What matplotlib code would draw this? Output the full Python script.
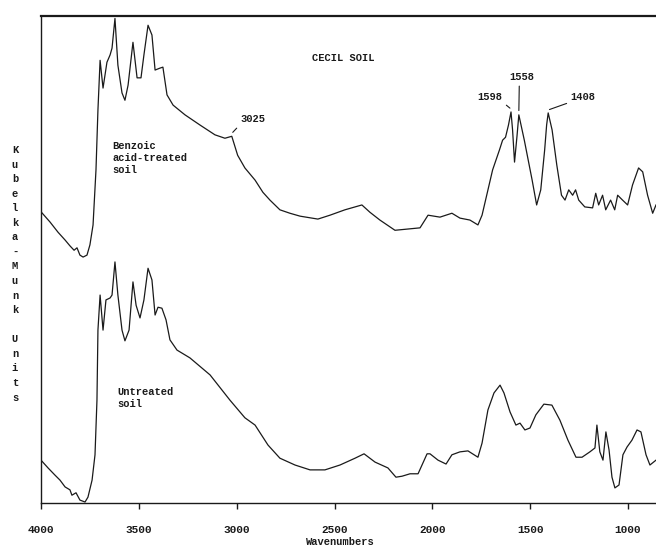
import numpy as np
import matplotlib
matplotlib.use('Agg')
import matplotlib.pyplot as plt

# Kubelka-Munk spectra (arbitrary units), wavenumbers in cm-1
wn_treated = [4000, 3954, 3913, 3877, 3852, 3831, 3816, 3801, 3785, 3765,
              3750, 3734, 3719, 3709, 3698, 3683, 3663, 3647, 3637, 3622,
              3607, 3586, 3571, 3555, 3530, 3509, 3489, 3474, 3453, 3433,
              3417, 3392, 3377, 3356, 3325, 3264, 3187, 3111, 3060, 3025,
              2995, 2958, 2906, 2866, 2830, 2779, 2728, 2676, 2585, 2523,
              2447, 2360, 2319, 2268, 2191, 2114, 2063, 2022, 1961, 1900,
              1859, 1808, 1767, 1746, 1692, 1657, 1641, 1626, 1611, 1598,
              1590, 1580, 1567, 1558, 1530, 1490, 1467, 1446, 1426, 1416,
              1408, 1388, 1364, 1340, 1322, 1303, 1283, 1268, 1252, 1221,
              1181, 1165, 1150, 1130, 1114, 1089, 1068, 1053, 1028, 1002,
              977, 946, 925, 900, 874, 857]
km_treated = [59.8, 57.7, 55.6, 54.0, 52.8, 51.9, 52.4, 50.9, 50.5, 50.9,
              53.0, 57.1, 68.4, 80.7, 90.9, 85.2, 90.5, 92.0, 93.4, 99.5,
              89.9, 84.2, 82.7, 85.8, 94.6, 87.3, 87.3, 92.0, 98.1, 96.1,
              88.9, 89.3, 89.5, 83.8, 81.7, 79.7, 77.6, 75.6, 74.9, 75.3,
              71.4, 68.8, 66.3, 63.8, 62.2, 60.2, 59.5, 58.9, 58.3, 59.1,
              60.2, 61.2, 59.7, 58.1, 56.0, 56.3, 56.5, 59.1, 58.7, 59.5,
              58.5, 58.1, 57.1, 59.1, 68.4, 72.5, 74.5, 75.1, 77.6, 80.3,
              76.6, 70.0, 75.5, 79.7, 74.5, 66.3, 61.2, 64.3, 72.5, 77.6,
              80.1, 76.6, 69.4, 63.2, 62.2, 64.3, 63.2, 64.3, 62.2, 60.8,
              60.6, 63.6, 61.2, 63.2, 60.2, 62.2, 60.2, 63.2, 62.2, 61.2,
              65.3, 68.8, 68.0, 63.2, 59.5, 61.2]

wn_untreated = [4000, 3964, 3928, 3903, 3877, 3852, 3842, 3821, 3801, 3775,
                3760, 3739, 3724, 3714, 3709, 3698, 3683, 3668, 3647, 3637,
                3622, 3607, 3586, 3571, 3550, 3530, 3514, 3494, 3474, 3453,
                3433, 3417, 3402, 3382, 3361, 3341, 3305, 3239, 3136, 3034,
                2958, 2906, 2840, 2779, 2702, 2625, 2549, 2472, 2395, 2349,
                2293, 2227, 2186, 2155, 2114, 2073, 2027, 2012, 1971, 1930,
                1900, 1859, 1818, 1767, 1746, 1716, 1685, 1654, 1634, 1603,
                1573, 1552, 1527, 1501, 1471, 1430, 1389, 1348, 1307, 1266,
                1235, 1195, 1169, 1159, 1144, 1128, 1113, 1097, 1082, 1067,
                1046, 1026, 1005, 980, 954, 934, 908, 888, 857]
km_untreated = [8.8, 7.2, 5.7, 4.7, 3.3, 2.7, 1.6, 2.1, 0.6, 0.2,
                1.2, 4.7, 9.9, 21.1, 35.5, 42.7, 35.5, 41.7, 42.1, 42.7,
                49.5, 42.7, 35.5, 33.3, 35.5, 45.4, 40.6, 38.0, 41.7, 48.2,
                45.8, 38.6, 40.2, 40.0, 37.6, 33.5, 31.4, 29.8, 26.3, 21.1,
                17.5, 16.0, 11.9, 9.2, 7.8, 6.8, 6.8, 7.8, 9.2, 10.1,
                8.4, 7.2, 5.3, 5.5, 6.0, 6.0, 10.1, 10.1, 8.8, 8.0,
                9.9, 10.5, 10.7, 9.4, 12.3, 19.1, 22.6, 24.2, 22.6, 18.7,
                16.0, 16.4, 15.0, 15.4, 18.1, 20.3, 20.1, 17.0, 12.9, 9.4,
                9.4, 10.5, 11.3, 16.0, 10.5, 8.8, 14.6, 10.9, 5.3, 3.1,
                3.7, 9.9, 11.5, 12.9, 15.0, 14.6, 9.9, 7.8, 8.8]

# labelled bands on the treated spectrum
band_wn = [3025, 1598, 1558, 1408]
# text offsets in pixels and which corner of the label the leader starts at
band_offset = [(21, 14), (-21, 12), (3, 35), (35, 13)]
band_relpos = [(0, 0), (1, 0), (0.4, 0), (0, 0)]

xticks = [4000, 3500, 3000, 2500, 2000, 1500, 1000]

mono = 'Liberation Mono'
ink = '#1a1a1a'

fig = plt.figure(figsize=(6.56, 5.48), dpi=100)
ax = fig.add_axes([41 / 656, 45 / 548, 615 / 656, 487 / 548])

ax.plot(wn_treated, km_treated, color=ink, lw=0.9)
ax.plot(wn_untreated, km_untreated, color=ink, lw=0.9)

ax.set_xlim(4000, 857)
ax.set_ylim(0, 100)
ax.spines['right'].set_visible(False)
for s in ['left', 'bottom']:
    ax.spines[s].set_linewidth(1.0)
    ax.spines[s].set_color(ink)
ax.spines['top'].set_linewidth(1.6)
ax.spines['top'].set_color(ink)

ax.set_xticks(xticks)
ax.set_xticklabels([str(t) for t in xticks], fontfamily=mono,
                   fontweight='bold', fontsize=8, color=ink)
ax.tick_params(axis='x', direction='out', length=4, width=1, pad=12, colors=ink)
ax.set_yticks([])

for wn, off, rp in zip(band_wn, band_offset, band_relpos):
    y = np.interp(wn, wn_treated[::-1], km_treated[::-1])
    ax.annotate(str(wn), xy=(wn, y + 0.6), xytext=off, textcoords='offset pixels',
                ha='center', va='center', fontfamily=mono, fontweight='bold',
                fontsize=7.5, color=ink,
                arrowprops=dict(arrowstyle='-', color=ink, lw=0.8,
                                shrinkA=1, shrinkB=1, relpos=rp))

fig.text(343 / 656, 1 - 58 / 548, 'CECIL SOIL', ha='center', va='center',
         fontfamily=mono, fontweight='bold', fontsize=7.5, color=ink)
fig.text(112 / 656, 1 - 141 / 548, 'Benzoic\nacid-treated\nsoil', ha='left',
         va='top', fontfamily=mono, fontweight='bold', fontsize=7.5,
         color=ink, linespacing=1.25)
fig.text(117 / 656, 1 - 387 / 548, 'Untreated\nsoil', ha='left', va='top',
         fontfamily=mono, fontweight='bold', fontsize=7.5, color=ink,
         linespacing=1.25)

# y label as a column of letters
fig.text(15 / 656, 1 - 145 / 548, '\n'.join('Kubelka-Munk Units'), ha='center',
         va='top', fontfamily=mono, fontweight='bold', fontsize=7.5,
         color=ink, linespacing=1.57)
fig.text(340 / 656, 1 / 548, 'Wavenumbers', ha='center', va='bottom',
         fontfamily=mono, fontweight='bold', fontsize=7.5, color=ink)

fig.savefig('out.png', dpi=100)
